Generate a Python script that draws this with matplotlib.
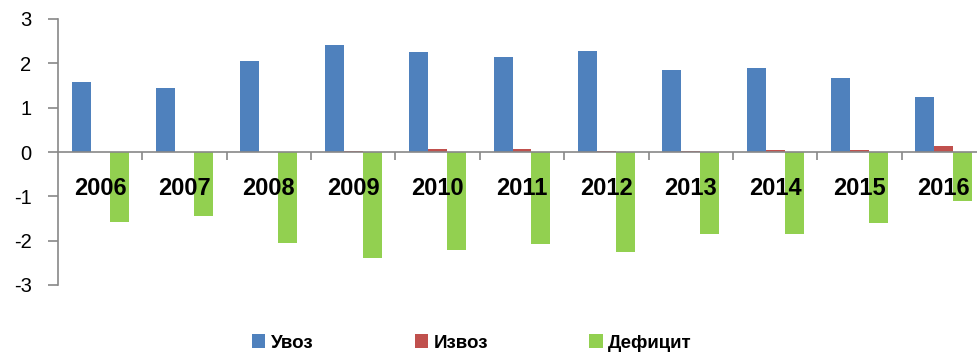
import numpy as np
import matplotlib
matplotlib.use('Agg')
import matplotlib.pyplot as plt
from matplotlib.ticker import FixedLocator

plt.rcParams['font.family'] = ['Liberation Sans', 'DejaVu Sans']
plt.rcParams['axes.unicode_minus'] = False

# Data
years = ['2006', '2007', '2008', '2009', '2010', '2011',
         '2012', '2013', '2014', '2015', '2016']
uvoz = [1.58, 1.44, 2.05, 2.41, 2.26, 2.14, 2.27, 1.86, 1.89, 1.67, 1.24]
izvoz = [0.005, 0.005, 0.005, 0.03, 0.07, 0.07, 0.015, 0.015, 0.04, 0.05, 0.135]
deficit = [-1.57, -1.44, -2.05, -2.38, -2.20, -2.08, -2.26, -1.86, -1.86, -1.61, -1.11]
series_names = ['Увоз', 'Извоз', 'Дефицит']
colors = ['#4F81BD', '#C0504D', '#92D050']
yticks = [-3, -2, -1, 0, 1, 2, 3]

fig = plt.figure(figsize=(9.77, 3.56), dpi=100)
ax = fig.add_axes([58 / 977, 1 - 285 / 356, 928 / 977, 266 / 356])

x = np.arange(len(years))
w = 0.225
for i, (vals, name, col) in enumerate(zip([uvoz, izvoz, deficit], series_names, colors)):
    ax.bar(x + (i - 1) * w, vals, width=w, color=col, label=name, zorder=2)

ax.set_xlim(-0.5, len(years) - 0.5)
ax.set_ylim(-3, 3)
ax.set_axisbelow(False)  # year labels sit on top of the bars

# axes styling
axis_col = '#888888'
for s in ['top', 'right']:
    ax.spines[s].set_visible(False)
ax.spines['left'].set_color(axis_col)
ax.spines['bottom'].set_color(axis_col)
ax.spines['bottom'].set_position(('data', 0))
ax.spines['left'].set_linewidth(1.2)
ax.spines['bottom'].set_linewidth(1.2)

ax.set_yticks(yticks)
ax.set_yticklabels([str(t) for t in yticks])
ax.tick_params(axis='y', labelsize=14.5, colors=axis_col, labelcolor='black',
               length=7, width=1.2, pad=12)

ax.set_xticks(x)
ax.set_xticklabels(years, fontweight='bold')
ax.xaxis.set_minor_locator(FixedLocator(np.arange(0.5, len(years) - 0.5, 1)))
ax.tick_params(axis='x', which='major', length=0, labelsize=17, pad=18)
ax.tick_params(axis='x', which='minor', length=6, width=1.2, colors=axis_col, direction='out')

leg = fig.legend(loc='center', bbox_to_anchor=(472 / 977, 1 - 343 / 356), ncol=3,
                 frameon=False, prop={'size': 13.5, 'weight': 'bold'},
                 handlelength=0.7, handleheight=0.7, handletextpad=0.3,
                 columnspacing=5.4)

fig.savefig('out.png', dpi=100, facecolor='white')
